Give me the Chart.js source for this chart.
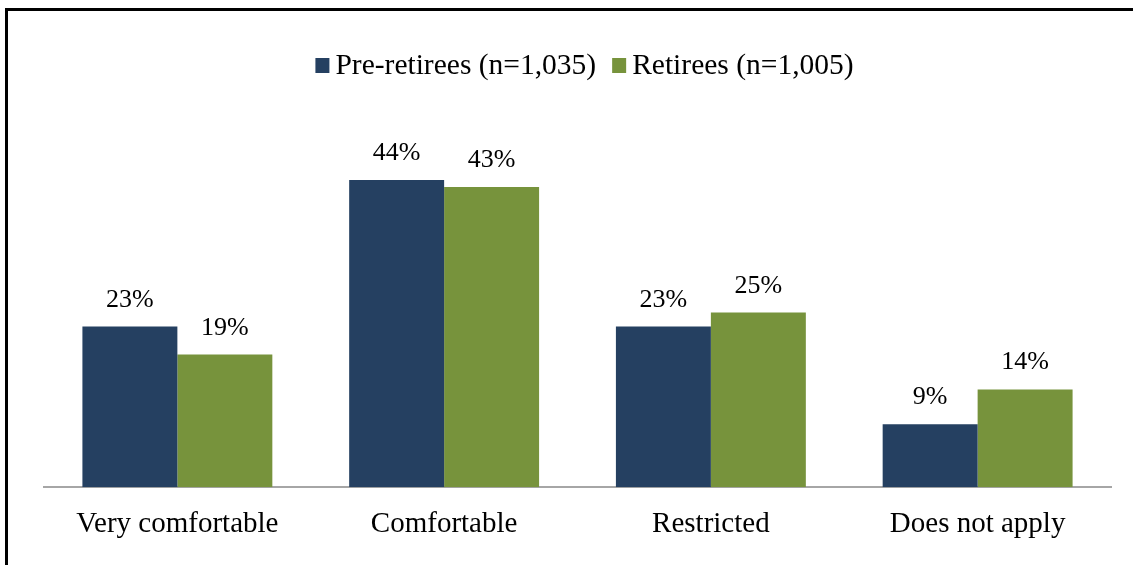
<!DOCTYPE html>
<html>
<head>
<meta charset="utf-8">
<script src="https://cdn.jsdelivr.net/npm/chart.js@4"></script>
<style>
  html, body { margin: 0; padding: 0; background: #fff; }
  body { width: 1133px; height: 565px; overflow: hidden; position: relative; }
  #frame {
    position: absolute; left: 5px; top: 8px; width: 1140px; height: 600px;
    border-top: 3px solid #000; border-left: 3px solid #000;
  }
  #wrap { position: absolute; left: 0; top: 0; width: 1133px; height: 565px; }
</style>
</head>
<body>
<div id="frame"></div>
<div id="wrap"><canvas id="chart"></canvas></div>
<script>
// chart data
const categories = ['Very comfortable', 'Comfortable', 'Restricted', 'Does not apply'];
const preRetirees = [23, 44, 23, 9];
const retirees = [19, 43, 25, 14];
const seriesNames = ['Pre-retirees (n=1,035)', 'Retirees (n=1,005)'];

const FONT = '"Liberation Serif", "Times New Roman", serif';

// write the % value above each bar
const barLabels = {
    id: 'barLabels',
    afterDatasetsDraw(chart) {
        const ctx = chart.ctx;
        ctx.save();
        ctx.font = '26px ' + FONT;
        ctx.fillStyle = '#000';
        ctx.textAlign = 'center';
        ctx.textBaseline = 'alphabetic';
        chart.data.datasets.forEach((ds, i) => {
            chart.getDatasetMeta(i).data.forEach((bar, j) => {
                ctx.fillText(ds.data[j] + '%', bar.x, bar.y - 20);
            });
        });
        ctx.restore();
    }
};

// legend drawn by hand: small square close to its text
const topLegend = {
    id: 'topLegend',
    afterDraw(chart) {
        const ctx = chart.ctx;
        const box = 14, gap = 6, between = 16;
        ctx.save();
        ctx.font = '29.5px ' + FONT;
        const items = chart.data.datasets.map(ds => ({
            text: ds.label,
            color: ds.backgroundColor,
            w: box + gap + ctx.measureText(ds.label).width
        }));
        const total = items.reduce((s, it) => s + it.w, 0) + between * (items.length - 1);
        const center = (chart.chartArea.left + chart.chartArea.right) / 2 + 7;
        let x = center - total / 2;
        const baseline = 74;
        items.forEach(it => {
            ctx.fillStyle = it.color;
            ctx.fillRect(x, baseline - 16, box, box + 1);
            ctx.fillStyle = '#000';
            ctx.textBaseline = 'alphabetic';
            ctx.textAlign = 'left';
            ctx.fillText(it.text, x + box + gap, baseline);
            x += it.w + between;
        });
        ctx.restore();
    }
};

new Chart(document.getElementById('chart'), {
    type: 'bar',
    data: {
        labels: categories,
        datasets: [
            { label: seriesNames[0], data: preRetirees, backgroundColor: '#254061' },
            { label: seriesNames[1], data: retirees, backgroundColor: '#77933C' }
        ]
    },
    options: {
        responsive: true,
        maintainAspectRatio: false,
        animation: false,
        categoryPercentage: 0.712,
        barPercentage: 1.0,
        layout: { padding: { top: 138, left: 44, right: 22, bottom: 11 } },
        plugins: {
            legend: { display: false },
            tooltip: { enabled: false }
        },
        scales: {
            x: {
                grid: { display: false },
                border: { display: true, color: '#a6a6a6', width: 2 },
                ticks: {
                    font: { family: FONT, size: 29 },
                    color: '#000',
                    padding: 12
                }
            },
            y: {
                display: false,
                min: 0,
                max: 50
            }
        }
    },
    plugins: [barLabels, topLegend]
});
</script>
</body>
</html>
